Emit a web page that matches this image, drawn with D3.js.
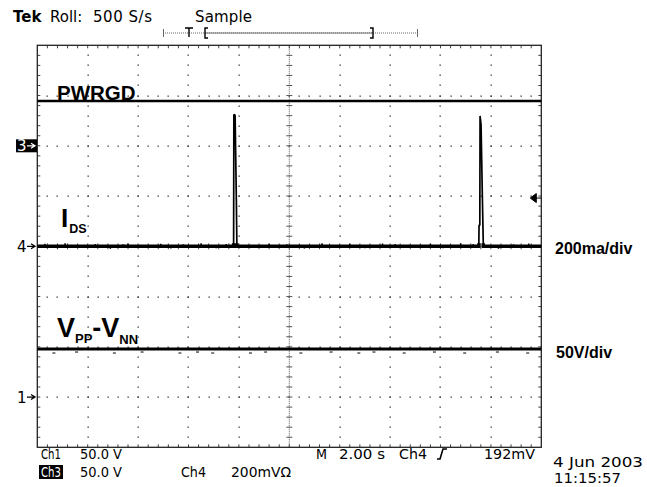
<!DOCTYPE html>
<html>
<head>
<meta charset="utf-8">
<script src="https://cdn.jsdelivr.net/npm/d3@7"></script>
<style>
  body { margin: 0; background: #fff; }
  svg { display: block; }
  .scope { font-family: "DejaVu Sans", sans-serif; fill: #000; }
  .lbl { font-family: "Liberation Sans", Arial, sans-serif; font-weight: bold; fill: #000; }
</style>
</head>
<body>
<svg width="647" height="487"></svg>
<script>
// Ajustes del osciloscopio
const secPerDiv = 2.0;
const divsX = 10, divsY = 8;

// posición de cada canal (divisiones desde el centro) y escala
const ch3Pos = 2, ch4Pos = 0, ch1Pos = -3;
const ch3VoltsDiv = 50, ch4mADiv = 200, ch1VoltsDiv = 50;

// PWRGD (Ch3), voltios
const pwrgdTime = [0, 20];
const pwrgdVolts = [44.6, 44.6];

// I_DS (Ch4), mA
const idsTime = [0, 7.79, 7.80, 7.85, 7.87, 7.90, 7.92, 17.52, 17.53, 17.56, 17.57, 17.61, 17.66, 17.70, 20];
const idsMilliAmps = [0, 0, 525, 522, 380, 175, 0, 0, 84, 84, 519, 482, 203, 0, 0];

// ruido visible en la traza de I_DS (instante, mA)
const idsNoiseTime = [0.3, 0.8, 1.1, 1.6, 2.3, 2.9, 3.4, 3.6, 4.4, 4.9, 5.3, 5.8, 6.5, 7.1, 7.5, 8.6, 9.2, 9.9, 10.6, 11.3, 11.8, 12.4, 13.0, 13.7, 14.2, 14.9, 15.6, 16.1, 16.8, 17.3, 18.3, 18.9, 19.5];
const idsNoise = [10, -8, 12, -6, 9, -10, 8, 11, -7, 10, -9, 8, 12, -8, 9, -7, 10, 8, -9, 12, -6, 10, -8, 11, 9, -7, 10, -8, 12, 9, -10, 8, 11];

// V_PP - V_NN (Ch1), voltios
const vppTime = [0, 20];
const vppVolts = [47.8, 47.8];
// pequeñas marcas bajo la traza de Ch1 (instante, V)
const vppSpeckTime = [0.6, 1.5, 3.0, 4.1, 5.6, 6.3, 6.9, 8.4, 9.0, 10.4, 11.6, 12.7, 13.3, 14.5, 15.7, 16.9, 18.2, 19.4];
const vppSpeck = [-4, -3, -4, -3, -4, -3, -4, -4, -3, -4, -3, -4, -3, -4, -3, -4, -3, -4];

// nivel de disparo en Ch4
const trigLevel = 192;

const svg = d3.select("svg");

// Escalas de la pantalla
const x = d3.scaleLinear().domain([0, divsX * secPerDiv]).range([37.3, 541.3]);
const y = d3.scaleLinear().domain([-divsY / 2, divsY / 2]).range([447.3, 45.3]);
const xDiv = d3.scaleLinear().domain([0, divsX]).range(x.range());

const x0 = x.range()[0], x1 = x.range()[1];
const yTop = y.range()[1], yBot = y.range()[0];
const xc = xDiv(5), yc = y(0);

const grid = svg.append("g");

// puntos de la retícula
const minorX = d3.range(1, divsX * 5).map(i => i / 5);
const minorY = d3.range(1, divsY * 5).map(i => -4 + i / 5);
const dots = [];
d3.range(1, divsX).filter(i => i !== 5).forEach(i => {
  minorY.forEach(v => dots.push([xDiv(i), y(v)]));
});
d3.range(-3, 4).filter(j => j !== 0).forEach(j => {
  minorX.forEach(u => dots.push([xDiv(u), y(j)]));
});
grid.selectAll("rect.dot")
  .data(dots)
  .join("rect")
  .attr("class", "dot")
  .attr("x", d => Math.round(d[0]) - 0.5)
  .attr("y", d => Math.round(d[1]) - 0.5)
  .attr("width", 1.3).attr("height", 1.3)
  .attr("fill", "#333");

// ejes centrales
grid.append("line")
  .attr("x1", xc).attr("x2", xc).attr("y1", yTop).attr("y2", yBot)
  .attr("stroke", "#555").attr("stroke-width", 1).attr("stroke-dasharray", "1,1");
grid.append("line")
  .attr("x1", x0).attr("x2", x1).attr("y1", yc).attr("y2", yc)
  .attr("stroke", "#555").attr("stroke-width", 1).attr("stroke-dasharray", "1,1");
grid.selectAll("line.ct")
  .data(minorY)
  .join("line")
  .attr("class", "ct")
  .attr("x1", xc - 3).attr("x2", xc + 3)
  .attr("y1", d => y(d)).attr("y2", d => y(d))
  .attr("stroke", "#555").attr("stroke-width", 1);
grid.selectAll("line.cx")
  .data(minorX)
  .join("line")
  .attr("class", "cx")
  .attr("y1", yc - 3).attr("y2", yc + 3)
  .attr("x1", d => xDiv(d)).attr("x2", d => xDiv(d))
  .attr("stroke", "#555").attr("stroke-width", 1);

// marcas del borde
const bt = [];
minorX.forEach(u => {
  bt.push([xDiv(u), yTop, xDiv(u), yTop + 3]);
  bt.push([xDiv(u), yBot, xDiv(u), yBot - 3]);
});
minorY.forEach(v => {
  bt.push([x0, y(v), x0 + 3, y(v)]);
  bt.push([x1, y(v), x1 - 3, y(v)]);
});
grid.selectAll("line.bt")
  .data(bt)
  .join("line")
  .attr("class", "bt")
  .attr("x1", d => d[0]).attr("y1", d => d[1])
  .attr("x2", d => d[2]).attr("y2", d => d[3])
  .attr("stroke", "#444").attr("stroke-width", 1);

grid.append("rect")
  .attr("x", x0).attr("y", yTop)
  .attr("width", x1 - x0).attr("height", yBot - yTop)
  .attr("fill", "none").attr("stroke", "#222").attr("stroke-width", 1.3);

// Trazas
const line = d3.line().x(d => x(d[0])).y(d => y(d[1]));

const pwrgd = pwrgdTime.map((t, i) => [t, ch3Pos + pwrgdVolts[i] / ch3VoltsDiv]);
const ids = idsTime.map((t, i) => [t, ch4Pos + idsMilliAmps[i] / ch4mADiv]);
const vpp = vppTime.map((t, i) => [t, ch1Pos + vppVolts[i] / ch1VoltsDiv]);

// banda para engrosar solo la línea base de Ch4
svg.append("clipPath").attr("id", "band")
  .append("rect").attr("x", x0).attr("y", yc - 3).attr("width", x1 - x0).attr("height", 6);

const traces = svg.append("g").attr("fill", "none").attr("stroke", "#000");
traces.append("path").attr("d", line(pwrgd)).attr("stroke-width", 2.6);
traces.append("path").attr("d", line(vpp)).attr("stroke-width", 3);
traces.append("path").attr("d", line(ids)).attr("stroke-width", 3.4)
  .attr("clip-path", "url(#band)");
traces.append("path").attr("d", line(ids)).attr("stroke-width", 1.7)
  .attr("stroke-linejoin", "bevel");

traces.selectAll("line.noise")
  .data(idsNoiseTime.map((t, i) => [t, idsNoise[i]]))
  .join("line")
  .attr("class", "noise")
  .attr("x1", d => x(d[0])).attr("x2", d => x(d[0]))
  .attr("y1", y(ch4Pos))
  .attr("y2", d => y(ch4Pos + d[1] / ch4mADiv))
  .attr("stroke-width", 1.5);

traces.selectAll("line.speck")
  .data(vppSpeckTime.map((t, i) => [t, vppSpeck[i]]))
  .join("line")
  .attr("class", "speck")
  .attr("x1", d => x(d[0])).attr("x2", d => x(d[0]) + 3)
  .attr("y1", d => y(ch1Pos + (vppVolts[0] + d[1]) / ch1VoltsDiv))
  .attr("y2", d => y(ch1Pos + (vppVolts[0] + d[1]) / ch1VoltsDiv))
  .attr("stroke-width", 1);

// flecha del nivel de disparo
const ty = y(ch4Pos + trigLevel / ch4mADiv);
svg.append("path")
  .attr("d", `M${x1 - 11},${ty} L${x1 - 5},${ty - 4.5} L${x1 - 5},${ty + 4.5} Z M${x1 - 5},${ty} L${x1},${ty}`)
  .attr("fill", "#000").attr("stroke", "#000").attr("stroke-width", 1);

// Marcadores de tierra de los canales
const markers = [
  { name: "3", pos: ch3Pos, inv: true },
  { name: "4", pos: ch4Pos, inv: false },
  { name: "1", pos: ch1Pos, inv: false }
];
const mk = svg.append("g");
markers.forEach(m => {
  const my = y(m.pos);
  if (m.inv) {
    mk.append("rect").attr("x", 16).attr("y", my - 6.5).attr("width", 21).attr("height", 13).attr("fill", "#000");
  }
  const c = m.inv ? "#fff" : "#000";
  mk.append("text").attr("class", "scope")
    .attr("x", 17).attr("y", my + 5.5)
    .style("font-size", "15px").style("fill", c)
    .text(m.name);
  mk.append("path")
    .attr("d", `M27,${my} L34,${my} M31,${my - 2.5} L35,${my} L31,${my + 2.5}`)
    .attr("stroke", c).attr("stroke-width", 1.3).attr("fill", "none");
});

// Cabecera
const head = svg.append("g").attr("class", "scope").style("font-size", "15px");
head.append("text").attr("x", 13).attr("y", 22).style("font-weight", "bold").text("Tek");
head.append("text").attr("x", 50).attr("y", 22).text("Roll:");
head.append("text").attr("x", 93).attr("y", 22).attr("textLength", 59).text("500 S/s");
head.append("text").attr("x", 195).attr("y", 22).attr("textLength", 57).text("Sample");

const by = 33;
const br = svg.append("g").attr("fill", "none");
br.append("line").attr("x1", 163).attr("x2", 418).attr("y1", by).attr("y2", by)
  .attr("stroke", "#666").attr("stroke-dasharray", "1,1");
br.append("line").attr("x1", 205).attr("x2", 373).attr("y1", by).attr("y2", by)
  .attr("stroke", "#777").attr("stroke-width", 1);
br.append("path").attr("d", `M163.5,${by - 4} V${by + 4} M417.5,${by - 4} V${by + 4}`)
  .attr("stroke", "#666");
br.append("path").attr("d", `M208,${by - 5} H205 V${by + 5} H208 M370,${by - 5} H373 V${by + 5} H370`)
  .attr("stroke", "#000").attr("stroke-width", 1.4);
br.append("path").attr("d", `M185,${by - 5} H193 M189,${by - 5} V${by + 4}`)
  .attr("stroke", "#000").attr("stroke-width", 1.4);

// Pie con lecturas
const foot = svg.append("g").attr("class", "scope").style("font-size", "14px");
const readouts = [
  { t: "Ch1", x: 41, y: 459, w: 20 },
  { t: "50.0 V", x: 80, y: 459, w: 42 },
  { t: "M", x: 316, y: 459, w: 11 },
  { t: "2.00 s", x: 339, y: 459, w: 46 },
  { t: "Ch4", x: 399, y: 459, w: 28 },
  { t: "192mV", x: 484, y: 459, w: 51 },
  { t: "4 Jun 2003", x: 553, y: 467, w: 90 },
  { t: "50.0 V", x: 80, y: 477, w: 42 },
  { t: "Ch4", x: 181, y: 477, w: 25 },
  { t: "200mVΩ", x: 231, y: 477, w: 60 },
  { t: "11:15:57", x: 554, y: 483, w: 67 }
];
foot.append("rect").attr("x", 39).attr("y", 465).attr("width", 24).attr("height", 14).attr("fill", "#000");
foot.append("text").attr("x", 41).attr("y", 477).attr("textLength", 20)
  .attr("lengthAdjust", "spacingAndGlyphs").style("fill", "#fff").text("Ch3");
foot.selectAll("text.ro")
  .data(readouts)
  .join("text")
  .attr("class", "ro")
  .attr("x", d => d.x).attr("y", d => d.y)
  .attr("textLength", d => d.w)
  .attr("lengthAdjust", "spacingAndGlyphs")
  .text(d => d.t);
// símbolo de flanco de subida
foot.append("path")
  .attr("d", "M437,459 H440 L443,449 H447")
  .attr("fill", "none").attr("stroke", "#000").attr("stroke-width", 1.6);

// Etiquetas de las señales
const labels = svg.append("g").attr("class", "lbl");
labels.append("text").attr("x", 57).attr("y", 100).style("font-size", "20.5px").text("PWRGD");

const idsLbl = labels.append("text").attr("x", 61).attr("y", 227);
idsLbl.append("tspan").style("font-size", "26px").text("I");
idsLbl.append("tspan").attr("dy", 6).attr("dx", 1).style("font-size", "12.5px").text("DS");

const vLbl = labels.append("text").attr("x", 57).attr("y", 337);
vLbl.append("tspan").style("font-size", "27px").text("V");
vLbl.append("tspan").attr("dy", 6).style("font-size", "13px").text("PP");
vLbl.append("tspan").attr("dy", -6).style("font-size", "27px").text("-V");
vLbl.append("tspan").attr("dy", 7).style("font-size", "13px").text("NN");

labels.append("text").attr("x", 555).attr("y", 254).style("font-size", "16px").text("200ma/div");
labels.append("text").attr("x", 556).attr("y", 358).style("font-size", "16px").text("50V/div");
</script>
</body>
</html>
